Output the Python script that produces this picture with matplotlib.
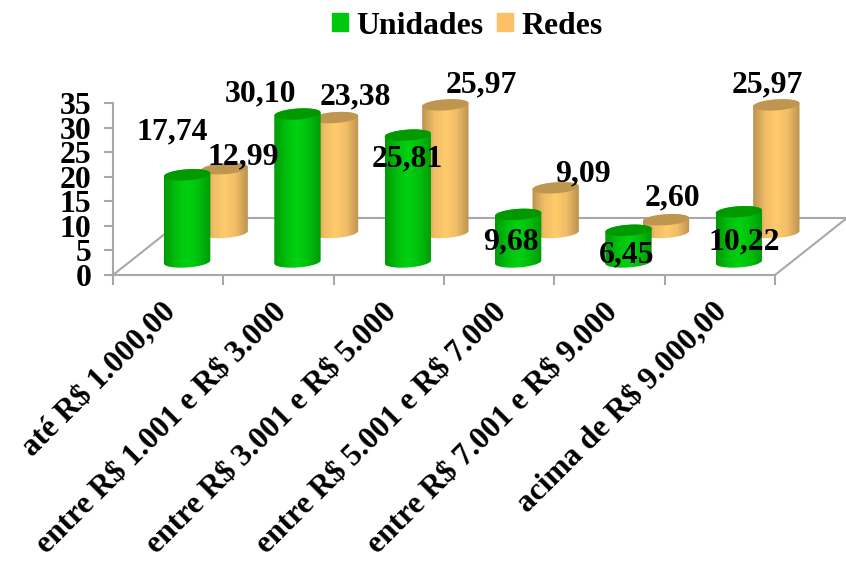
import numpy as np
import matplotlib
matplotlib.use('Agg')
import matplotlib.pyplot as plt
from matplotlib.colors import LinearSegmentedColormap
from matplotlib.patches import PathPatch, Patch
from matplotlib.path import Path

categories = ['até R\\$ 1.000,00', 'entre R\\$ 1.001 e R\\$ 3.000', 'entre R\\$ 3.001 e R\\$ 5.000',
              'entre R\\$ 5.001 e R\\$ 7.000', 'entre R\\$ 7.001 e R\\$ 9.000', 'acima de R\\$ 9.000,00']
unidades = [17.74, 30.10, 25.81, 9.68, 6.45, 10.22]
redes = [12.99, 23.38, 25.97, 9.09, 2.60, 25.97]
yticks = [0, 5, 10, 15, 20, 25, 30, 35]

# label shifts from the cylinder top, in pixels
shift_unidades = [(-15, 46), (-38, 24), (-1, -20), (-8, -24), (-2, -21), (5, -27)]
shift_redes = [(18, 15), (20, 24), (36, 23), (27, 17), (6, 25), (-9, 23)]

W, H = 846, 561
FS = 22.9
GRAY = '#A8A8A8'

plt.rcParams['font.family'] = ['Liberation Serif', 'DejaVu Serif']
plt.rcParams['font.weight'] = 'bold'

fig = plt.figure(figsize=(W / 100, H / 100), dpi=100)
ax = fig.add_axes([113 / W, 1 - 275 / H, 662 / W, 172 / H])

green_map = LinearSegmentedColormap.from_list('g', ['#009A08', '#00BE0C', '#00D210', '#00BE0C', '#009A08'])
orange_map = LinearSegmentedColormap.from_list('o', ['#BC9350', '#F0BC66', '#FFCB6C', '#F0BC66', '#BC9350'])
grad = np.linspace(0, 1, 64).reshape(1, -1)


def cylinder(cx, base, value, cmap, top_color, z):
    a, b, shear = 0.21, 1.12, 1.5
    top = base + value
    t = np.linspace(np.pi, 2 * np.pi, 40)
    xb = cx + a * np.cos(t)
    yb = base + b * np.sin(t) + shear * a * np.cos(t)
    t2 = np.linspace(0, np.pi, 40)
    xt = cx + a * np.cos(t2)
    yt = top + b * np.sin(t2) + shear * a * np.cos(t2)
    body = Path(np.column_stack([np.r_[xb, xt, xb[0]], np.r_[yb, yt, yb[0]]]), closed=False)
    clip = PathPatch(body, transform=ax.transData, fc='none', ec='none', clip_on=False)
    ax.add_patch(clip)
    im = ax.imshow(grad, cmap=cmap, extent=(cx - a, cx + a, base - 3, top + 3), aspect='auto', zorder=z)
    im.set_clip_box(fig.bbox)
    im.set_clip_path(clip)
    t3 = np.linspace(0, 2 * np.pi, 80)
    ax.fill(cx + a * np.cos(t3), top + b * np.sin(t3) + shear * a * np.cos(t3),
            color=top_color, lw=0, zorder=z + 0.1, clip_on=False)


# floor
depth_x, depth_y = 0.652, 11.6
ax.plot([0, depth_x, 6 + depth_x, 6], [0, depth_y, depth_y, 0], color=GRAY, lw=1.5, clip_on=False, zorder=1)

x = np.arange(len(categories)) + 0.5
for i in range(len(categories)):
    cylinder(x[i] + 0.512, 8.65, redes[i], orange_map, '#BF9650', 3 + i * 0.01)
for i in range(len(categories)):
    cylinder(x[i] + 0.172, 2.65, unidades[i], green_map, '#009A00', 4 + i * 0.01)

for i in range(len(categories)):
    ax.annotate(f'{redes[i]:.2f}'.replace('.', ','), (x[i] + 0.516, 8.65 + redes[i]),
                xytext=shift_redes[i], textcoords='offset pixels', ha='center', va='center_baseline',
                fontsize=FS, fontweight='bold', zorder=6, annotation_clip=False)
    ax.annotate(f'{unidades[i]:.2f}'.replace('.', ','), (x[i] + 0.177, 2.65 + unidades[i]),
                xytext=shift_unidades[i], textcoords='offset pixels', ha='center', va='center_baseline',
                fontsize=FS, fontweight='bold', zorder=6, annotation_clip=False)

ax.set_xlim(0, 6)
ax.set_ylim(0, 35)
ax.set_yticks(yticks)
ax.set_xticks(range(7))
ax.set_xticklabels([])
ax.set_xticks(x - 0.06, minor=True)
ax.set_xticklabels(categories, minor=True, rotation=45, ha='right', va='top',
                   rotation_mode='anchor', fontsize=22.6, fontweight='bold')
ax.tick_params(axis='x', which='major', length=7, width=1.5, color=GRAY)
ax.tick_params(axis='x', which='minor', length=0, pad=16.5)
ax.tick_params(axis='y', length=6.5, width=1.5, color=GRAY, labelsize=FS, pad=9)
for s in ['top', 'right']:
    ax.spines[s].set_visible(False)
for s in ['left', 'bottom']:
    ax.spines[s].set_color(GRAY)
    ax.spines[s].set_linewidth(1.5)
ax.patch.set_alpha(0)

handles = [Patch(color='#00C80C', label='Unidades'), Patch(color='#FCC066', label='Redes')]
fig.legend(handles=handles, loc='center', bbox_to_anchor=(467.5 / W, 1 - 26 / H), ncol=2, frameon=False,
           fontsize=FS, handlelength=0.5, handleheight=0.5, handletextpad=0.27, columnspacing=0.42,
           borderpad=0, borderaxespad=0)

fig.savefig('out.png', dpi=100)
